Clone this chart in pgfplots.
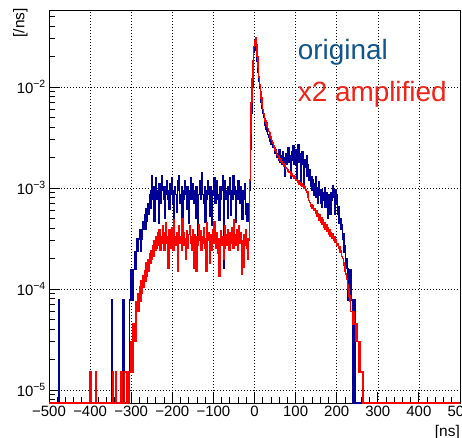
\documentclass[border=0pt]{standalone}
\usepackage{fontspec}
\setmainfont{Liberation Sans}
\usepackage{pgfplots}
\pgfplotsset{compat=1.18}

\definecolor{histblue}{RGB}{0,0,153}
\definecolor{histred}{RGB}{255,0,0}
\definecolor{txtblue}{RGB}{16,84,140}
\definecolor{txtred}{RGB}{240,36,24}

\begin{document}
\begin{tikzpicture}
\begin{axis}[
  name=ax,
  scale only axis, width=411bp, height=393bp,
  ymode=log,
  xmin=-500, xmax=500, ymin=7.43e-6, ymax=0.0578,
  xtick={-500,-400,...,500},
  xticklabels={−500,−400,−300,−200,−100,0,100,200,300,400,500},
  minor x tick num=4,
  ytick={1e-5,1e-4,1e-3,1e-2},
  yticklabels={10\textsuperscript{−5},10\textsuperscript{−4},10\textsuperscript{−3},10\textsuperscript{−2}},
  minor ytick={8e-6,9e-6,2e-5,3e-5,4e-5,5e-5,6e-5,7e-5,8e-5,9e-5,
    2e-4,3e-4,4e-4,5e-4,6e-4,7e-4,8e-4,9e-4,
    2e-3,3e-3,4e-3,5e-3,6e-3,7e-3,8e-3,9e-3,
    2e-2,3e-2,4e-2,5e-2},
  tick align=inside, xtick pos=bottom, ytick pos=left,
  major tick length=11bp, minor tick length=6bp,
  grid=major,
  grid style={black, line width=0.5bp, dash pattern=on 0.8bp off 2.2bp},
  axis line style={line width=0.9bp},
  tick style={black, line width=0.8bp},
  ticklabel style={font=\fontsize{15}{15}\selectfont},
  xticklabel style={inner sep=0pt, yshift=-3bp},
  yticklabel style={inner sep=0pt, xshift=-3bp},
  clip=false,
]
% original, 2 ns bins (low edge, value); empty bins sit on the bottom edge
\addplot[const plot mark left, histblue, line width=1.45bp] coordinates {
(-500,7.43e-6)(-476,7.8e-5)(-474,7.43e-6)(-348,7.8e-5)(-346,7.43e-6)(-320,7.8e-5)(-318,7.43e-6)
(-304,7.8e-5)(-302,7.8e-5)(-300,1.56e-4)(-298,7.8e-5)(-296,1.56e-4)(-294,1.56e-4)(-292,2.34e-4)(-290,1.56e-4)
(-288,2.34e-4)(-286,3.12e-4)(-284,2.34e-4)(-282,3.12e-4)(-280,3.9e-4)(-278,2.34e-4)(-276,3.9e-4)(-274,3.12e-4)
(-272,4.68e-4)(-270,3.9e-4)(-268,5.46e-4)(-266,3.9e-4)(-264,6.24e-4)(-262,4.68e-4)(-260,7.0e-4)(-258,5.46e-4)
(-256,8.6e-4)(-254,6.24e-4)(-252,9.4e-4)(-250,1.33e-3)(-248,7.8e-4)(-246,1.02e-3)(-244,4.7e-4)(-242,8.6e-4)
(-240,1.25e-3)(-238,7.8e-4)(-236,9.4e-4)(-234,4.5e-4)(-232,1.1e-3)(-230,8.6e-4)(-228,7.0e-4)(-226,1.33e-3)
(-224,9.4e-4)(-222,7.8e-4)(-220,1.02e-3)(-218,5.0e-4)(-216,8.6e-4)(-214,1.17e-3)(-212,7.8e-4)(-210,9.4e-4)
(-208,6.2e-4)(-206,1.09e-3)(-204,8.6e-4)(-202,1.25e-3)(-200,7.0e-4)(-198,9.4e-4)(-196,4.4e-4)(-194,1.02e-3)
(-192,8.6e-4)(-190,5.8e-4)(-188,1.17e-3)(-186,9.4e-4)(-184,1.33e-3)(-182,7.0e-4)(-180,8.6e-4)(-178,1.02e-3)
(-176,4.8e-4)(-174,9.4e-4)(-172,7.8e-4)(-170,1.17e-3)(-168,8.6e-4)(-166,6.2e-4)(-164,1.02e-3)(-162,7.8e-4)
(-160,4.5e-4)(-158,9.4e-4)(-156,1.25e-3)(-154,7.8e-4)(-152,8.6e-4)(-150,1.09e-3)(-148,7.0e-4)(-146,9.4e-4)
(-144,5.0e-4)(-142,1.02e-3)(-140,7.8e-4)(-138,3.1e-4)(-136,8.6e-4)(-134,1.17e-3)(-132,7.8e-4)(-130,9.4e-4)
(-128,1.4e-3)(-126,8.6e-4)(-124,7.0e-4)(-122,1.02e-3)(-120,4.6e-4)(-118,9.4e-4)(-116,7.8e-4)(-114,1.17e-3)
(-112,8.6e-4)(-110,5.2e-4)(-108,1.02e-3)(-106,7.8e-4)(-104,4.3e-4)(-102,9.4e-4)(-100,8.6e-4)(-98,1.25e-3)
(-96,7.0e-4)(-94,9.4e-4)(-92,1.17e-3)(-90,7.8e-4)(-88,8.6e-4)(-86,4.8e-4)(-84,1.02e-3)(-82,7.8e-4)
(-80,9.4e-4)(-78,1.33e-3)(-76,1.6e-4)(-74,8.6e-4)(-72,1.17e-3)(-70,7.8e-4)(-68,9.4e-4)(-66,5.0e-4)
(-64,1.02e-3)(-62,8.6e-4)(-60,1.25e-3)(-58,5.4e-4)(-56,9.4e-4)(-54,7.8e-4)(-52,1.33e-3)(-50,8.6e-4)
(-48,1.02e-3)(-46,4.6e-4)(-44,9.4e-4)(-42,7.8e-4)(-40,1.17e-3)(-38,8.6e-4)(-36,7.0e-4)(-34,1.02e-3)
(-32,8.6e-4)(-30,4.9e-4)(-28,9.4e-4)(-26,7.8e-4)(-24,1.09e-3)(-22,5.5e-4)(-20,4.7e-4)(-18,7.0e-4)
(-16,4.7e-4)(-14,6.2e-4)(-12,9.4e-4)(-10,2.4e-3)(-8,5.5e-3)(-6,1.0e-2)(-4,1.6e-2)(-2,2.2e-2)
(0,2.7e-2)(2,2.75e-2)(4,2.3e-2)(6,1.8e-2)(8,1.4e-2)(10,1.15e-2)(12,9.6e-3)(14,8.2e-3)
(16,7.0e-3)(18,6.2e-3)(20,5.5e-3)(22,5.0e-3)(24,4.5e-3)(26,4.2e-3)(28,3.8e-3)(30,3.6e-3)
(32,3.4e-3)(34,3.2e-3)(36,3.0e-3)(38,2.9e-3)(40,2.7e-3)(42,2.8e-3)(44,2.5e-3)(46,2.6e-3)
(48,2.3e-3)(50,2.2e-3)(52,2.4e-3)(54,2.0e-3)(56,2.2e-3)(58,1.9e-3)(60,2.4e-3)(62,1.8e-3)
(64,2.1e-3)(66,1.7e-3)(68,2.3e-3)(70,1.8e-3)(72,2.0e-3)(74,1.3e-3)(76,2.2e-3)(78,1.7e-3)
(80,1.9e-3)(82,2.5e-3)(84,1.8e-3)(86,2.1e-3)(88,1.25e-3)(90,2.3e-3)(92,1.9e-3)(94,2.6e-3)
(96,1.7e-3)(98,2.1e-3)(100,2.4e-3)(102,1.2e-3)(104,2.0e-3)(106,2.7e-3)(108,1.8e-3)(110,2.2e-3)
(112,1.15e-3)(114,1.9e-3)(116,2.3e-3)(118,1.7e-3)(120,1.1e-3)(122,1.9e-3)(124,1.6e-3)(126,2.1e-3)
(128,1.3e-3)(130,1.7e-3)(132,1.2e-3)(134,1.5e-3)(136,1.05e-3)(138,1.3e-3)(140,9.5e-4)(142,1.2e-3)
(144,8.5e-4)(146,1.1e-3)(148,1.3e-3)(150,8.0e-4)(152,1.0e-3)(154,7.0e-4)(156,1.15e-3)(158,8.5e-4)
(160,7.0e-4)(162,9.5e-4)(164,6.5e-4)(166,9.0e-4)(168,7.5e-4)(170,1.0e-3)(172,6.5e-4)(174,8.0e-4)
(176,9.0e-4)(178,5.0e-4)(180,8.5e-4)(182,7.0e-4)(184,5.5e-4)(186,9.0e-4)(188,7.5e-4)(190,1.05e-3)
(192,8.0e-4)(194,5.5e-4)(196,9.5e-4)(198,7.0e-4)(200,8.5e-4)(202,5.5e-4)(204,6.5e-4)(206,4.5e-4)
(208,5.0e-4)(210,3.9e-4)(212,4.3e-4)(214,3.1e-4)(216,3.5e-4)(218,2.3e-4)(220,2.7e-4)(222,1.6e-4)
(224,2.0e-4)(226,1.6e-4)(228,7.8e-5)(230,1.56e-4)(232,7.8e-5)(234,1.56e-4)(236,7.8e-5)(238,7.8e-5)
(240,7.43e-6)(242,7.8e-5)(244,7.43e-6)(500,7.43e-6)
};
% x2 amplified
\addplot[const plot mark left, histred, line width=1.45bp] coordinates {
(-500,7.43e-6)(-400,1.5e-5)(-398,7.43e-6)(-386,1.5e-5)(-384,7.43e-6)(-346,1.5e-5)(-344,7.43e-6)
(-338,1.5e-5)(-336,7.43e-6)(-326,1.5e-5)(-324,1.5e-5)(-322,7.43e-6)(-316,1.5e-5)(-314,1.5e-5)(-312,7.43e-6)
(-308,1.5e-5)(-306,7.43e-6)(-304,1.5e-5)(-302,1.5e-5)(-300,3.0e-5)(-298,1.5e-5)(-296,4.5e-5)(-294,3.0e-5)
(-292,4.5e-5)(-290,3.0e-5)(-288,7.5e-5)(-286,6.0e-5)(-284,9.0e-5)(-282,6.0e-5)(-280,1.05e-4)(-278,7.5e-5)
(-276,1.2e-4)(-274,9.0e-5)(-272,1.35e-4)(-270,1.05e-4)(-268,1.5e-4)(-266,1.2e-4)(-264,1.8e-4)(-262,1.35e-4)
(-260,1.95e-4)(-258,1.5e-4)(-256,2.25e-4)(-254,1.8e-4)(-252,2.4e-4)(-250,1.95e-4)(-248,2.7e-4)(-246,2.1e-4)
(-244,3.0e-4)(-242,2.4e-4)(-240,3.3e-4)(-238,2.55e-4)(-236,3.6e-4)(-234,2.7e-4)(-232,3.9e-4)(-230,2.4e-4)
(-228,3.3e-4)(-226,2.85e-4)(-224,4.2e-4)(-222,3.0e-4)(-220,2.4e-4)(-218,3.6e-4)(-216,4.5e-4)(-214,2.85e-4)
(-212,3.3e-4)(-210,1.6e-4)(-208,3.9e-4)(-206,3.0e-4)(-204,2.55e-4)(-202,4.05e-4)(-200,3.15e-4)(-198,2.4e-4)
(-196,4.8e-4)(-194,3.3e-4)(-192,2.7e-4)(-190,3.6e-4)(-188,1.5e-4)(-186,3.45e-4)(-184,4.2e-4)(-182,2.85e-4)
(-180,3.3e-4)(-178,2.4e-4)(-176,4.95e-4)(-174,3.6e-4)(-172,2.7e-4)(-170,3.15e-4)(-168,1.95e-4)(-166,3.75e-4)
(-164,3.0e-4)(-162,2.55e-4)(-160,3.45e-4)(-158,4.2e-4)(-156,2.85e-4)(-154,3.3e-4)(-152,2.4e-4)(-150,3.9e-4)
(-148,1.6e-4)(-146,3.45e-4)(-144,2.85e-4)(-142,1.5e-4)(-140,3.3e-4)(-138,2.7e-4)(-136,4.35e-4)(-134,3.0e-4)
(-132,3.75e-4)(-130,2.4e-4)(-128,3.3e-4)(-126,2.85e-4)(-124,4.05e-4)(-122,2.55e-4)(-120,3.15e-4)(-118,1.5e-4)
(-116,4.5e-4)(-114,3.0e-4)(-112,3.6e-4)(-110,1.8e-4)(-108,2.7e-4)(-106,3.45e-4)(-104,2.4e-4)(-102,3.9e-4)
(-100,2.85e-4)(-98,4.65e-4)(-96,3.3e-4)(-94,2.55e-4)(-92,3.6e-4)(-90,2.25e-4)(-88,3.15e-4)(-86,1.35e-4)
(-84,2.85e-4)(-82,3.75e-4)(-80,2.7e-4)(-78,3.3e-4)(-76,1.95e-4)(-74,2.55e-4)(-72,4.2e-4)(-70,3.45e-4)
(-68,2.7e-4)(-66,3.9e-4)(-64,3.0e-4)(-62,2.4e-4)(-60,3.6e-4)(-58,2.85e-4)(-56,4.05e-4)(-54,3.15e-4)
(-52,2.55e-4)(-50,4.8e-4)(-48,3.45e-4)(-46,2.7e-4)(-44,3.9e-4)(-42,2.4e-4)(-40,3.3e-4)(-38,4.2e-4)
(-36,2.85e-4)(-34,3.6e-4)(-32,1.4e-4)(-30,3.0e-4)(-28,1.65e-4)(-26,3.45e-4)(-24,2.7e-4)(-22,3.9e-4)
(-20,2.55e-4)(-18,3.15e-4)(-16,1.95e-4)(-14,3.0e-4)(-12,1.2e-3)(-10,3.5e-3)(-8,7.0e-3)(-6,1.2e-2)
(-4,1.8e-2)(-2,2.5e-2)(0,2.9e-2)(2,3.05e-2)(4,2.6e-2)(6,2.0e-2)(8,1.55e-2)(10,1.25e-2)
(12,1.05e-2)(14,9.0e-3)(16,7.8e-3)(18,6.8e-3)(20,6.0e-3)(22,5.4e-3)(24,4.9e-3)(26,4.6e-3)
(28,4.4e-3)(30,4.1e-3)(32,3.9e-3)(34,3.6e-3)(36,3.5e-3)(38,3.2e-3)(40,3.1e-3)(42,2.95e-3)
(44,2.8e-3)(46,2.6e-3)(48,2.5e-3)(50,2.35e-3)(52,2.3e-3)(54,2.15e-3)(56,2.1e-3)(58,2.05e-3)
(60,1.95e-3)(62,1.9e-3)(64,1.85e-3)(66,1.8e-3)(68,1.75e-3)(70,1.72e-3)(72,1.65e-3)(74,1.68e-3)
(76,1.58e-3)(78,1.55e-3)(80,1.5e-3)(82,1.46e-3)(84,1.42e-3)(86,1.45e-3)(88,1.35e-3)(90,1.38e-3)
(92,1.3e-3)(94,1.33e-3)(96,1.25e-3)(98,1.28e-3)(100,1.2e-3)(102,1.22e-3)(104,1.15e-3)(106,1.18e-3)
(108,1.1e-3)(110,1.12e-3)(112,1.07e-3)(114,1.09e-3)(116,1.03e-3)(118,1.06e-3)(120,1.0e-3)(122,1.02e-3)
(124,9.5e-4)(126,9.0e-4)(128,9.2e-4)(130,8.0e-4)(132,7.5e-4)(134,7.2e-4)(136,6.6e-4)(138,6.9e-4)
(140,6.3e-4)(142,6.6e-4)(144,6.0e-4)(146,6.3e-4)(148,5.6e-4)(150,5.9e-4)(152,5.2e-4)(154,5.5e-4)
(156,4.8e-4)(158,5.4e-4)(160,4.6e-4)(162,5.1e-4)(164,4.4e-4)(166,4.8e-4)(168,4.1e-4)(170,4.5e-4)
(172,3.9e-4)(174,4.3e-4)(176,3.7e-4)(178,4.0e-4)(180,3.5e-4)(182,3.9e-4)(184,3.3e-4)(186,3.6e-4)
(188,3.2e-4)(190,3.5e-4)(192,3.0e-4)(194,3.3e-4)(196,2.9e-4)(198,3.1e-4)(200,2.7e-4)(202,2.8e-4)
(204,2.5e-4)(206,2.6e-4)(208,2.3e-4)(210,2.4e-4)(212,2.1e-4)(214,2.0e-4)(216,1.8e-4)(218,1.7e-4)
(220,1.5e-4)(222,1.4e-4)(224,1.25e-4)(226,1.1e-4)(228,1.0e-4)(230,8.5e-5)(232,7.5e-5)(234,6.0e-5)
(236,6.0e-5)(238,4.5e-5)(240,6.0e-5)(242,4.5e-5)(244,4.5e-5)(246,3.0e-5)(248,4.5e-5)(250,3.0e-5)
(252,3.0e-5)(254,1.5e-5)(256,3.0e-5)(258,1.5e-5)(260,1.5e-5)(262,1.5e-5)(264,7.43e-6)(500,7.43e-6)
};
\node[anchor=base west, inner sep=0pt, text=txtblue, font=\fontsize{28}{28}\selectfont]
  at (rel axis cs:0.605,0.873) {original};
\node[anchor=base west, inner sep=0pt, text=txtred, font=\fontsize{28}{28}\selectfont]
  at (rel axis cs:0.605,0.767) {x2 amplified};
\end{axis}
\node[anchor=north east, inner sep=0pt, font=\fontsize{15.5}{15.5}\selectfont]
  at ([yshift=-22bp]ax.south east) {[ns]};
\node[rotate=90, anchor=east, inner sep=0pt, font=\fontsize{15.5}{15.5}\selectfont]
  at ([xshift=-28.5bp, yshift=2bp]ax.north west) {[/ns]};
\pgfresetboundingbox
\path ([xshift=-49bp, yshift=-35bp]ax.south west) rectangle ([xshift=2bp, yshift=10bp]ax.north east);
\end{tikzpicture}
\end{document}
